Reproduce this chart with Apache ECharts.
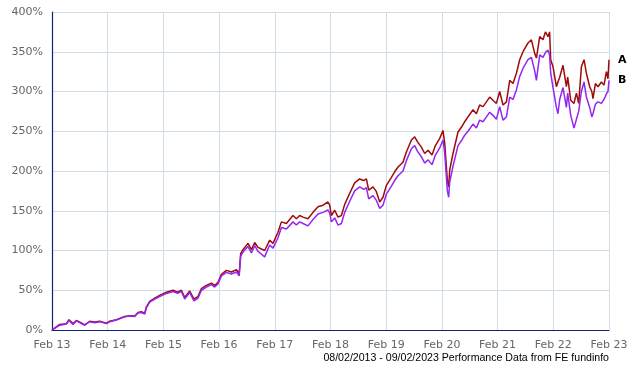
<!DOCTYPE html>
<html>
<head>
<meta charset="utf-8">
<script src="https://cdn.jsdelivr.net/npm/echarts@6/dist/echarts.min.js"></script>
<style>html,body{margin:0;padding:0;background:#fff;}#c{width:640px;height:370px;}</style>
</head>
<body>
<div id="c"></div>
<script>
// x position in months since Feb 2013
const months = [0,1.66,3.10,3.66,4.52,5.26,6.33,7.04,8.12,9.20,10.28,11.72,12.43,13.87,15.66,16.74,17.82,18.53,19.26,19.97,20.34,21.05,22.13,23.20,24.65,26.07,27.08,27.88,28.59,29.67,30.59,31.45,32.19,33.26,34.34,35.05,35.76,36.50,37.57,38.65,39.73,40.33,40.65,41.15,42.23,42.96,43.67,44.38,45.82,46.90,47.61,48.69,49.42,50.50,51.92,52.65,53.36,54.08,55.15,56.23,57.31,58.38,59.46,59.83,60.19,60.91,61.62,62.35,63.06,64.14,65.21,66.29,67.15,67.73,68.23,69.16,69.89,70.60,71.31,72.04,73.12,73.83,74.54,75.62,76.35,77.43,78.14,78.72,79.58,80.29,81.01,81.87,82.60,83.53,84.24,84.60,85.18,85.46,85.68,86.39,87.47,88.20,88.91,89.62,90.70,91.43,92.14,92.86,93.59,94.30,95.01,95.74,96.45,97.16,97.90,98.61,99.32,100.05,100.76,101.47,101.84,102.55,103.28,103.99,104.36,105.07,105.78,106.30,106.86,107.20,107.44,107.94,108.67,109.00,109.38,110.09,110.82,111.10,111.75,112.46,112.98,113.47,114.05,114.62,115.13,115.84,116.30,116.55,117.07,117.63,118.36,118.92,119.44,119.78,120.0];
const seriesA = [0,7,8,13,8,12,9,6.5,11,10,11,8.5,11,13,17,18,17.5,22,23,21,29,36,40,43.5,47.6,50,47.5,50,41,49,39,42,52,56,59,56,60,70,75,73,76,71,96,101,109,101,110,104,100,113,109,123,136,134,144,140,144,142,140,148,155,157,161,157,144,150.6,142,144,158,172,185,190,188,190,176,180,174,161,167,182,192,199,205,211,224,239,243,237,230,222,226,220,232,241,251,235,188,180,201,222,249,255,262,268,277,272,283,281,287,293,289,285,300,283,287,314,310,323,340,350,354,361,365,348,342,369,365,375,369,375,340,331,306,312,318,333,306,318,289,285,298,285,331,340,323,306,300,291,310,306,312,308,325,316,340];
const seriesB = [0,6,7.5,12,7,11.5,8,6,10.5,9,10.5,8,10.5,12.5,16.5,17.5,17,21.5,22,20,28,35,39,42,46,48.5,46,48.5,39,47,36.5,40,50,54,57,54,58,68,72.5,70.5,73,68,93,98,105,97,106,99,92,107,103,116,129,127,136,132,136,134,131,139,146,148,151,147,136,141,132,134,148,162,175,180,177,179,165,169,163,153,157,171,181,188,194,200,213,228,232,225,218,210,214,208,220,229,239,223,175,167,186,206,232,238,245,250,259,254,264,262,268,274,270,265,281,264,268,293,290,302,319,329,333,340,343,326,314,346,343,349,352,346,323,305,280,272,290,305,280,298,270,254,265,275,300,312,293,280,268,272,284,287,285,290,297,300,314];
const seriesNames = ['A','B'];
const xTickLabels = ['Feb 13','Feb 14','Feb 15','Feb 16','Feb 17','Feb 18','Feb 19','Feb 20','Feb 21','Feb 22','Feb 23'];
const footerText = '08/02/2013 - 09/02/2023 Performance Data from FE fundinfo';

const chart = echarts.init(document.getElementById('c'), null, {renderer:'canvas'});
const gridColor = '#d0dde8';
const axisColor = '#112277';
const labelFont = {color:'#666', fontFamily:'DejaVu Sans', fontSize:11};
function mkSeries(name, vals, color, z){
  return {
    name:name, type:'line', showSymbol:false, z:z,
    data: months.map((m,i)=>[m, vals[i]]),
    lineStyle:{color:color, width:1.5}, itemStyle:{color:color},
    endLabel:{show:true, formatter:'{a}', color:'#000', fontWeight:'bold', fontFamily:'DejaVu Sans', fontSize:11, distance:9},
    animation:false
  };
}
chart.setOption({
  animation:false,
  grid:{left:52, right:31, top:12, bottom:40},
  xAxis:{type:'value', min:0, max:120, interval:12,
    axisLine:{show:true, lineStyle:{color:axisColor, width:1.2}},
    axisTick:{show:false},
    axisLabel:Object.assign({margin:10, formatter:v=>xTickLabels[Math.round(v/12)]}, labelFont),
    splitLine:{show:true, lineStyle:{color:gridColor, width:1}}},
  yAxis:{type:'value', min:0, max:400, interval:50,
    axisLine:{show:true, lineStyle:{color:axisColor, width:1.2}},
    axisTick:{show:false},
    axisLabel:Object.assign({margin:9, formatter:'{value}%'}, labelFont),
    splitLine:{show:true, lineStyle:{color:gridColor, width:1}}},
  series:[mkSeries(seriesNames[0], seriesA, '#a00a0a', 2), mkSeries(seriesNames[1], seriesB, '#9326f0', 3)],
  graphic:[{type:'text', right:31, top:353, style:{text:footerText, fill:'#000', font:'10.6px "Liberation Sans"'}}]
});
</script>
</body>
</html>
